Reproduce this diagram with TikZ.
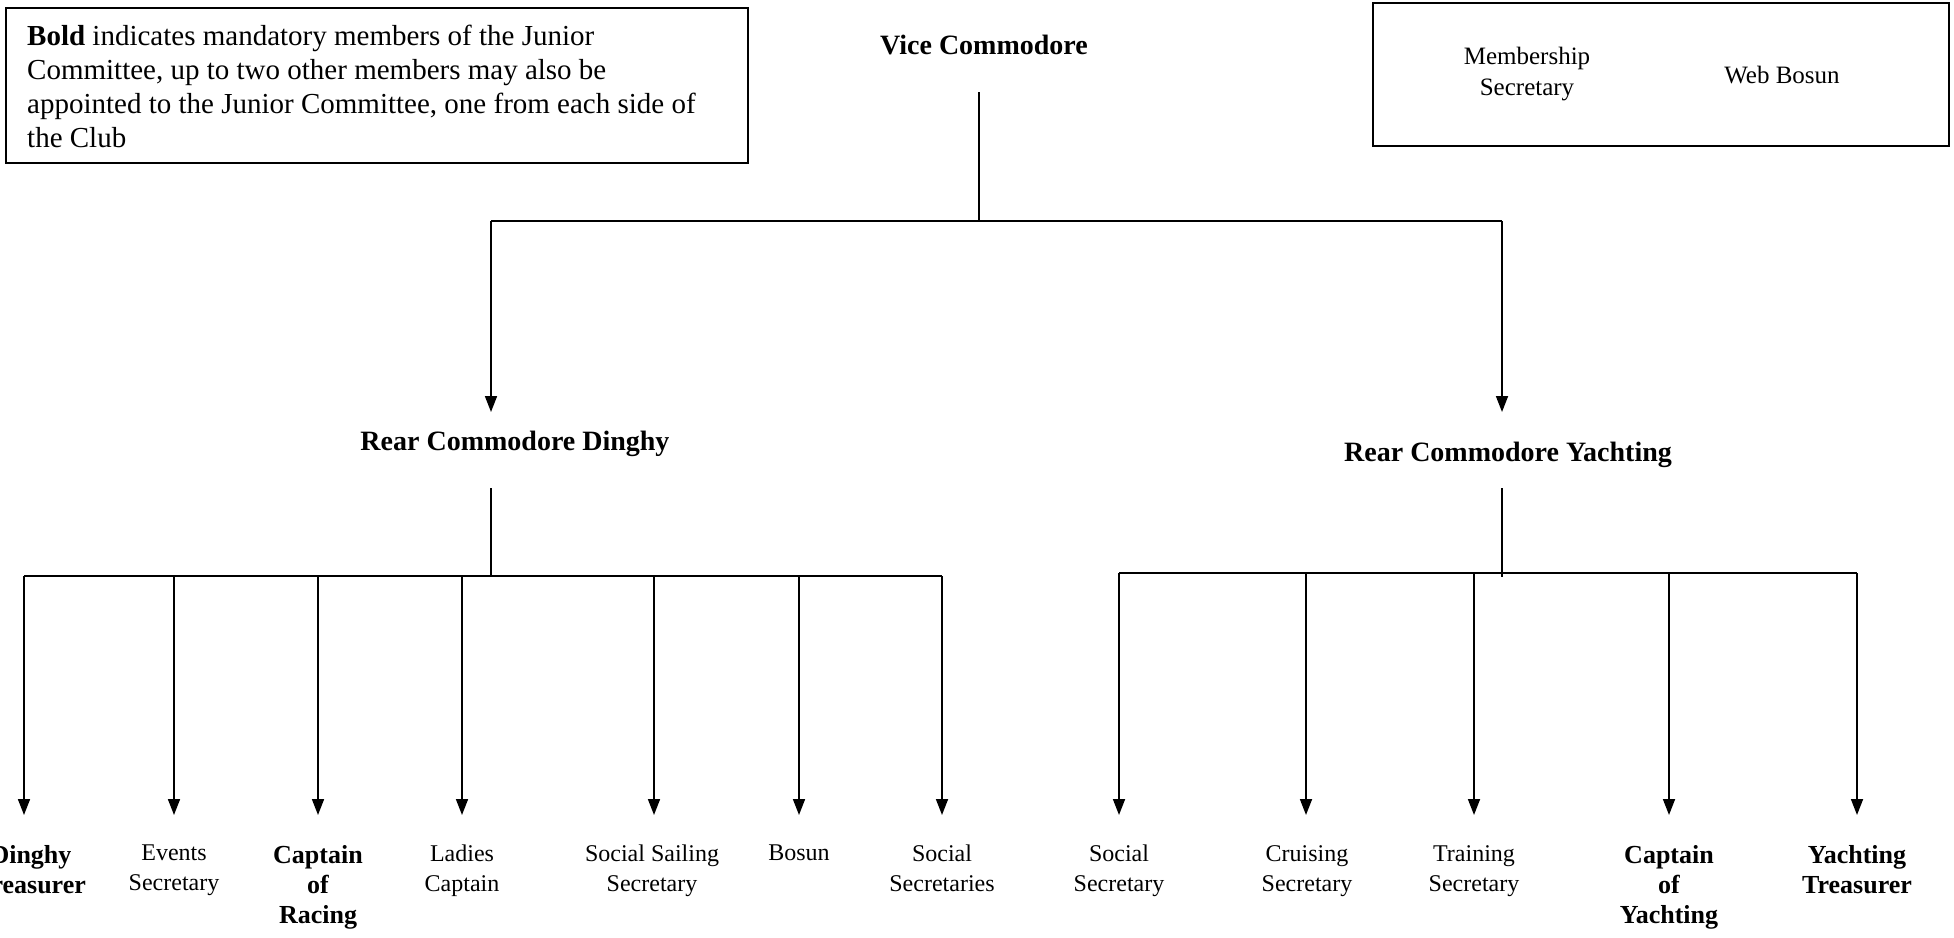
\documentclass[tikz,border=0pt]{standalone}
\usepackage{fontspec}
\setmainfont{Liberation Serif}
\usetikzlibrary{arrows.meta}
\begin{document}
\begin{tikzpicture}[x=1pt,y=-1pt,
  conn/.style={line width=1.7pt},
  arr/.style={conn,-{Triangle[length=16pt,width=12pt]}},
  lbl/.style={align=center,font=\fontsize{24}{30}\selectfont,inner sep=0pt,anchor=north},
  blbl/.style={align=center,font=\fontsize{26}{30}\selectfont\bfseries,inner sep=0pt,anchor=north},
  head/.style={font=\fontsize{28}{34}\selectfont\bfseries,inner sep=0pt,anchor=base},
  box/.style={draw,line width=1.7pt,inner sep=0pt}]
\useasboundingbox (0,0) rectangle (1954,937);
\clip (0,0) rectangle (1954,937);

% legend boxes
\node[box,minimum width=742pt,minimum height=155pt] (legend) at (377,85.5) {};
\node[align=left,anchor=north west,inner sep=0pt,font=\fontsize{29}{34}\selectfont] (legendtext) at (27,25)
  {\textbf{Bold} indicates mandatory members of the Junior\\
   Committee, up to two other members may also be\\
   appointed to the Junior Committee, one from each side of\\
   the Club};
\node[box,minimum width=576pt,minimum height=143pt] (extra) at (1661,74.5) {};
\node[align=center,inner sep=0pt,font=\fontsize{25}{31}\selectfont] (memb) at (1527,74) {Membership\\Secretary};
\node[inner sep=0pt,font=\fontsize{25}{31}\selectfont] (web) at (1782,75) {Web Bosun};

% heads
\node[head] (vc) at (984,54) {Vice Commodore};
\node[head] (rcd) at (515,450) {Rear Commodore Dinghy};
\node[head] (rcy) at (1508,461) {Rear Commodore Yachting};

% dinghy children
\node[blbl] (dt) at (31,845) {Dinghy\\Treasurer};
\node[lbl] (es) at (174,845) {Events\\Secretary};
\node[blbl] (cr) at (318,845) {Captain\\of\\Racing};
\node[lbl] (lc) at (462,845) {Ladies\\Captain};
\node[lbl] (sss) at (652,845) {Social Sailing\\Secretary};
\node[lbl] (bo) at (799,845) {Bosun};
\node[lbl] (sses) at (942,845) {Social\\Secretaries};

% yachting children
\node[lbl] (ss) at (1119,845) {Social\\Secretary};
\node[lbl] (cs) at (1307,845) {Cruising\\Secretary};
\node[lbl] (ts) at (1474,845) {Training\\Secretary};
\node[blbl] (cy) at (1669,845) {Captain\\of\\Yachting};
\node[blbl] (yt) at (1857,845) {Yachting\\Treasurer};

% top connectors
\coordinate (vcl) at (979,92);
\coordinate (j1) at (979,221);
\coordinate (j1L) at (491,221);
\coordinate (j1R) at (1502,221);
\coordinate (rcdtip) at (491,412);
\coordinate (rcytip) at (1502,412);
\draw[conn] (vcl) -- (j1);
\draw[conn] (j1L) -- (j1R);
\draw[arr] (j1L) -- (rcdtip);
\draw[arr] (j1R) -- (rcytip);

% dinghy branch
\coordinate (dtop) at (491,488);
\coordinate (dbar) at (491,576);
\coordinate (dbarL) at (24,576);
\coordinate (dbarR) at (942,576);
\draw[conn] (dtop) -- (dbar);
\draw[conn] (dbarL) -- (dbarR);
\foreach \n/\x in {dt/24,es/174,cr/318,lc/462,sss/654,bo/799,sses/942}
  \draw[arr] (\x,576) -- (\x,815);

% yachting branch
\coordinate (ytop) at (1502,488);
\coordinate (ybar) at (1502,577);
\coordinate (ybarL) at (1119,573);
\coordinate (ybarR) at (1857,573);
\draw[conn] (ytop) -- (ybar);
\draw[conn] (ybarL) -- (ybarR);
\foreach \n/\x in {ss/1119,cs/1306,ts/1474,cy/1669,yt/1857}
  \draw[arr] (\x,573) -- (\x,815);
\end{tikzpicture}
\end{document}
